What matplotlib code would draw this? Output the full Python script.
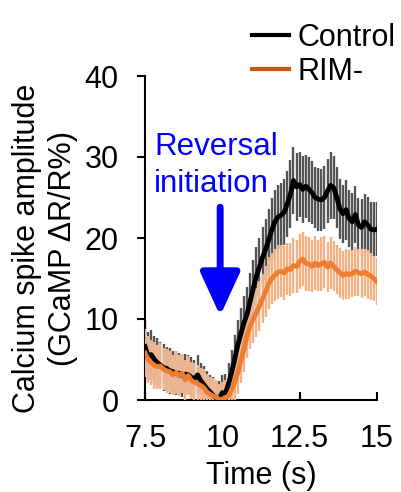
import numpy as np
import matplotlib.pyplot as plt
from matplotlib.lines import Line2D

plt.rcParams["font.family"] = ["Liberation Sans", "DejaVu Sans"]
plt.rcParams["font.size"] = 22

# time points (s), one per error bar
time = np.round(np.arange(7.5, 15.01, 0.1), 1)

control = [6.6, 5.4, 5.6, 5.0, 4.6, 4.3, 4.0, 3.9, 3.6, 3.5,
           3.3, 3.3, 3.0, 3.2, 3.1, 2.8, 2.6, 3.1, 2.4, 1.9,
           1.4, 1.0, 0.6, 0.3, 0.2, 0.9, 0.8, 2.0, 3.4, 5.0,
           6.8, 8.2, 9.5, 10.6, 12.2, 13.8, 15.3, 16.4, 17.6, 18.6,
           19.8, 21.0, 22.0, 22.6, 22.8, 23.2, 24.2, 25.4, 27.1, 26.3,
           26.6, 26.0, 26.4, 26.0, 25.6, 25.0, 24.8, 24.7, 25.0, 25.8,
           26.5, 26.2, 25.0, 23.6, 23.0, 23.5, 22.4, 22.0, 22.9, 21.6,
           21.3, 22.0, 21.6, 21.1, 21.0, 21.1]
control_err = [3.2, 3.0, 3.1, 2.9, 3.0, 2.8, 2.9, 2.7, 2.8, 2.6,
               2.7, 2.5, 2.6, 2.5, 2.4, 2.5, 2.3, 2.4, 2.2, 2.3,
               2.2, 2.1, 2.2, 2.0, 2.1, 2.2, 2.4, 2.6, 2.8, 3.0,
               3.1, 3.2, 3.3, 3.4, 3.5, 3.5, 3.6, 3.6, 3.7, 3.8,
               3.8, 3.9, 3.9, 4.0, 4.0, 4.1, 4.1, 4.2, 4.1, 4.2,
               4.0, 4.1, 3.9, 4.0, 3.9, 3.8, 3.9, 3.8, 3.9, 4.0,
               4.1, 3.9, 3.8, 3.7, 3.6, 3.7, 3.5, 3.6, 3.5, 3.4,
               3.5, 3.4, 3.5, 3.3, 3.4, 3.3]

rim = [5.8, 5.0, 4.6, 4.3, 4.1, 4.2, 3.8, 3.6, 3.5, 3.1,
       3.4, 3.0, 3.3, 2.5, 3.0, 2.4, 2.2, 2.0, 1.8, 1.5,
       1.0, 0.7, 0.5, 0.4, 0.0, 0.1, 0.3, 0.5, 1.3, 2.2,
       3.4, 4.8, 6.3, 8.0, 9.2, 10.0, 10.8, 11.6, 12.5, 13.4,
       14.4, 15.0, 15.4, 15.8, 15.9, 15.7, 16.2, 16.1, 16.6, 16.5,
       17.1, 17.4, 16.9, 16.8, 16.5, 16.9, 16.6, 16.8, 17.0, 16.4,
       16.9, 16.5, 16.1, 15.7, 15.4, 15.6, 15.5, 15.6, 15.9, 15.7,
       15.6, 15.8, 15.5, 15.3, 15.0, 14.6]
rim_err = [3.0, 2.9, 2.8, 2.9, 2.7, 2.8, 2.6, 2.7, 2.6, 2.5,
           2.6, 2.5, 2.4, 2.5, 2.4, 2.3, 2.4, 2.3, 2.2, 2.3,
           2.2, 2.1, 2.2, 2.1, 2.0, 2.1, 2.2, 2.3, 2.4, 2.5,
           2.6, 2.7, 2.8, 2.8, 2.9, 3.0, 3.0, 3.1, 3.0, 3.1,
           3.2, 3.1, 3.2, 3.3, 3.2, 3.3, 3.2, 3.3, 3.4, 3.3,
           3.4, 3.3, 3.4, 3.3, 3.2, 3.3, 3.2, 3.3, 3.2, 3.1,
           3.2, 3.1, 3.0, 3.1, 3.0, 3.1, 3.0, 2.9, 3.0, 2.9,
           3.0, 2.9, 3.0, 2.9, 2.8, 2.9]

fig = plt.figure(figsize=(4.02, 4.92), dpi=100)
ax = fig.add_axes([145 / 402, 1 - 400 / 492, 232 / 402, 324 / 492])

ax.errorbar(time, control, yerr=control_err, fmt="none", ecolor="#555555",
            elinewidth=1.7, capsize=0, zorder=2)
ax.errorbar(time, rim, yerr=rim_err, fmt="none", ecolor="#f4b183",
            elinewidth=1.7, capsize=0, zorder=3)
ax.plot(time, control, color="black", lw=3.5, zorder=4)
ax.plot(time, rim, color="#ed7d31", lw=3.5, zorder=5)

# reversal arrow
ax.annotate("", xy=(9.93, 10.4), xytext=(9.93, 23.8),
            arrowprops=dict(arrowstyle="-|>,head_length=1.2,head_width=0.55",
                            color="#0000ff", lw=5, shrinkA=0, shrinkB=0))
ax.text(7.79, 30.3, "Reversal", color="#0000ff", ha="left", va="baseline",
        fontsize=22.5)
ax.text(7.79, 25.7, "initiation", color="#0000ff", ha="left", va="baseline",
        fontsize=22.5)

ax.set_xlim(7.5, 15)
ax.set_ylim(0, 40)
ax.set_xticks([7.5, 10, 12.5, 15])
ax.set_xticklabels(["7.5", "10", "12.5", "15"])
ax.set_yticks([0, 10, 20, 30, 40])
ax.spines["top"].set_visible(False)
ax.spines["right"].set_visible(False)
for s in ["left", "bottom"]:
    ax.spines[s].set_linewidth(1.5)
ax.tick_params(axis="x", direction="in", length=5.5, width=1.5, pad=17)
ax.tick_params(axis="y", direction="out", length=6, width=1.5, pad=13)
ax.set_xlabel("Time (s)", labelpad=5)

fig.text(45 / 402, 1 - 248 / 492, "Calcium spike amplitude\n(GCaMP \u0394R/R%)",
         rotation=90, ha="center", va="center", multialignment="center",
         linespacing=1.3)

handles = [Line2D([], [], color="black", lw=3),
           Line2D([], [], color="#c55a11", lw=3)]
fig.legend(handles, ["Control", "RIM-"], loc="upper left",
           bbox_to_anchor=(252 / 402, 1 - 23 / 492), frameon=False,
           borderpad=0, borderaxespad=0, handlelength=1.2,
           handletextpad=0.3, labelspacing=0.12)

fig.savefig("out.png", dpi=100)
